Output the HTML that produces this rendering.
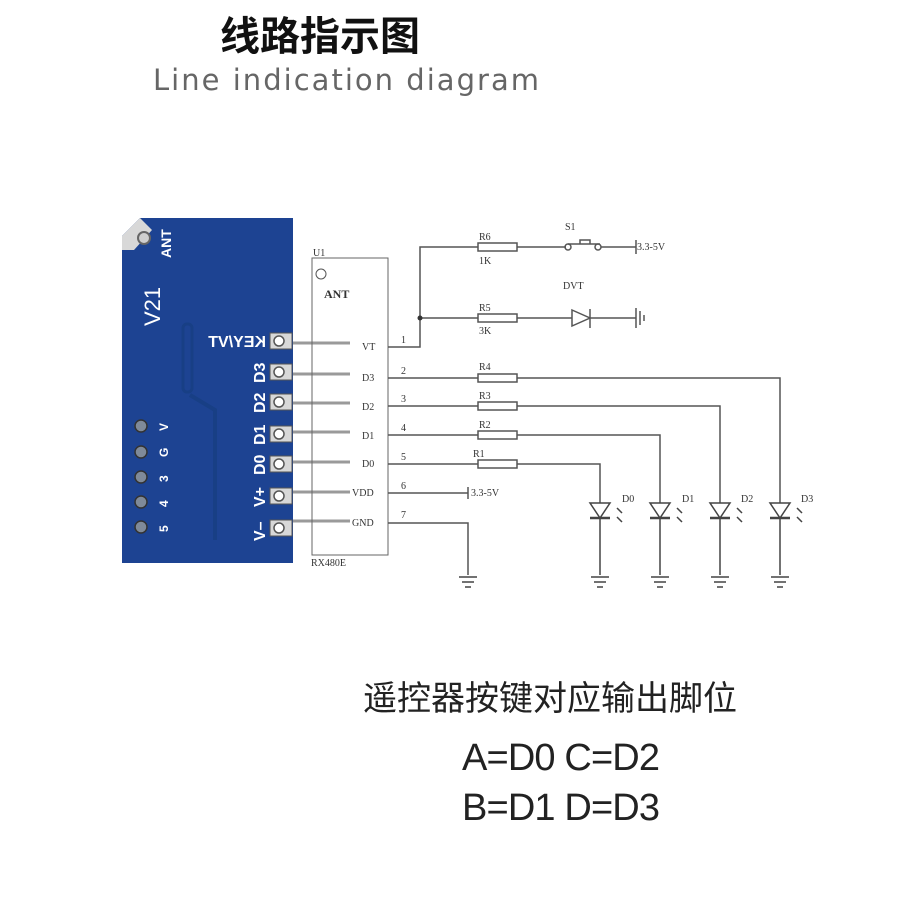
<!DOCTYPE html>
<html><head><meta charset="utf-8"><style>
html,body{margin:0;padding:0;background:#fff;}
svg{display:block;}
</style></head><body>
<svg width="900" height="900" viewBox="0 0 900 900" xmlns="http://www.w3.org/2000/svg">
<text x="320" y="50" font-family="'Noto Sans CJK SC',sans-serif" font-size="40" font-weight="bold" text-anchor="middle" fill="#111">线路指示图</text>
<text x="346" y="90" font-family="'DejaVu Sans','Liberation Sans',sans-serif" font-size="29" text-anchor="middle" fill="#666" textLength="386">Line indication diagram</text>

<!-- PCB -->
<rect x="122" y="218" width="171" height="345" fill="#1d4392"/>
<polygon points="122,218 140,218 122,236" fill="#fff"/>
<polygon points="122,236 140,218 152,230 134,250 122,250" fill="#d8d8d8"/>
<circle cx="144" cy="238" r="6" fill="#cfcfcf" stroke="#666" stroke-width="2"/>
<text x="0" y="0" transform="translate(171,258) rotate(-90)" font-family="'Liberation Sans',sans-serif" font-size="14" font-weight="bold" fill="#fff">ANT</text>
<text x="0" y="0" transform="translate(160,326) rotate(-90)" font-family="'Liberation Sans',sans-serif" font-size="22" fill="#fff">V21</text>
<rect x="183" y="324" width="9" height="68" rx="4" fill="none" stroke="#183f85" stroke-width="3"/>
<path d="M190 395 L215 410 L215 540" fill="none" stroke="#183f85" stroke-width="4"/>
<g fill="#7f8a99" stroke="#333" stroke-width="1.5">
<circle cx="141" cy="426" r="6"/><circle cx="141" cy="452" r="6"/><circle cx="141" cy="477" r="6"/><circle cx="141" cy="502" r="6"/><circle cx="141" cy="527" r="6"/>
</g>
<g font-family="'Liberation Sans',sans-serif" font-size="12" font-weight="bold" fill="#fff">
<text transform="translate(168,431) rotate(-90)">V</text>
<text transform="translate(168,457) rotate(-90)">G</text>
<text transform="translate(168,482) rotate(-90)">3</text>
<text transform="translate(168,507) rotate(-90)">4</text>
<text transform="translate(168,532) rotate(-90)">5</text>
</g>
<g font-family="'Liberation Sans',sans-serif" font-size="16" font-weight="bold" fill="#fff">
<text transform="translate(266,341) scale(-1,1)" dy="6" text-anchor="start">KEY/VT</text>
<text transform="translate(265,383) rotate(-90)">D3</text>
<text transform="translate(265,413) rotate(-90)">D2</text>
<text transform="translate(265,445) rotate(-90)">D1</text>
<text transform="translate(265,475) rotate(-90)">D0</text>
<text transform="translate(265,507) rotate(-90)">V+</text>
<text transform="translate(265,541) rotate(-90)">V–</text>
</g>
<g>
<g fill="#d8d8d8" stroke="#555" stroke-width="1">
<rect x="270" y="333" width="22" height="16"/><rect x="270" y="364" width="22" height="16"/><rect x="270" y="394" width="22" height="16"/><rect x="270" y="426" width="22" height="16"/><rect x="270" y="456" width="22" height="16"/><rect x="270" y="488" width="22" height="16"/><rect x="270" y="520" width="22" height="16"/>
</g>
<g fill="#fff" stroke="#555" stroke-width="1.5">
<circle cx="279" cy="341" r="5"/><circle cx="279" cy="372" r="5"/><circle cx="279" cy="402" r="5"/><circle cx="279" cy="434" r="5"/><circle cx="279" cy="464" r="5"/><circle cx="279" cy="496" r="5"/><circle cx="279" cy="528" r="5"/>
</g>
</g>

<!-- schematic -->
<g stroke="#9a9a9a" stroke-width="3">
<line x1="293" y1="343" x2="350" y2="343"/><line x1="293" y1="374" x2="350" y2="374"/><line x1="293" y1="403" x2="350" y2="403"/><line x1="293" y1="432" x2="350" y2="432"/><line x1="293" y1="462" x2="350" y2="462"/><line x1="293" y1="492" x2="350" y2="492"/><line x1="293" y1="521" x2="350" y2="521"/>
</g>
<g font-family="'Liberation Serif',serif" font-size="10" fill="#333">
<text x="313" y="256">U1</text>
<text x="311" y="566">RX480E</text>
<text x="324" y="298" font-weight="bold" font-size="12">ANT</text>
<text x="362" y="350">VT</text><text x="362" y="381">D3</text><text x="362" y="410">D2</text><text x="362" y="439">D1</text><text x="362" y="467">D0</text><text x="352" y="496">VDD</text><text x="352" y="526">GND</text>
<text x="401" y="343">1</text><text x="401" y="374">2</text><text x="401" y="402">3</text><text x="401" y="431">4</text><text x="401" y="460">5</text><text x="401" y="489">6</text><text x="401" y="518">7</text>
<text x="479" y="240">R6</text><text x="479" y="264">1K</text>
<text x="479" y="311">R5</text><text x="479" y="334">3K</text>
<text x="479" y="370">R4</text><text x="479" y="399">R3</text><text x="479" y="428">R2</text><text x="473" y="457">R1</text>
<text x="565" y="230">S1</text><text x="563" y="289">DVT</text>
<text x="637" y="250">3.3-5V</text><text x="471" y="496">3.3-5V</text>
<text x="622" y="502">D0</text><text x="682" y="502">D1</text><text x="741" y="502">D2</text><text x="801" y="502">D3</text>
</g>
<circle cx="321" cy="274" r="5" fill="none" stroke="#555"/>
<rect x="312" y="258" width="76" height="297" fill="none" stroke="#666" stroke-width="1"/>
<g stroke="#555" stroke-width="1.5" fill="none">
<path d="M388 347 H420 V247 H478"/><path d="M517 247 H566"/><path d="M601 247 H636"/><line x1="636" y1="240" x2="636" y2="254"/>
<path d="M420 318 H478"/><path d="M517 318 H572"/><path d="M590 318 H636"/>
<path d="M572 310 L590 318 L572 326 Z"/><line x1="590" y1="309" x2="590" y2="328"/>
<line x1="636" y1="308" x2="636" y2="328"/><line x1="640" y1="311" x2="640" y2="325"/><line x1="644" y1="315" x2="644" y2="321"/>
<path d="M568 244 H600 M580 244 V240 H590 V244"/>
<circle cx="568" cy="247" r="3"/><circle cx="598" cy="247" r="3"/>
<path d="M388 378 H478 M517 378 H780 V503"/>
<path d="M388 406 H478 M517 406 H720 V503"/>
<path d="M388 435 H478 M517 435 H660 V503"/>
<path d="M388 464 H478 M517 464 H600 V503"/>
<path d="M388 493 H468"/><line x1="468" y1="487" x2="468" y2="499"/>
<path d="M388 523 H468 V575"/>
<rect x="478" y="243" width="39" height="8" fill="#fff"/>
<rect x="478" y="314" width="39" height="8" fill="#fff"/>
<rect x="478" y="374" width="39" height="8" fill="#fff"/>
<rect x="478" y="402" width="39" height="8" fill="#fff"/>
<rect x="478" y="431" width="39" height="8" fill="#fff"/>
<rect x="478" y="460" width="39" height="8" fill="#fff"/>
</g>
<g stroke="#444" stroke-width="1.5" fill="none">
<path d="M459 577 H477 M462 582 H474 M465 587 H471"/>
<g id="led"><path d="M590 503 H610 L600 518 Z"/><line x1="590" y1="518" x2="610" y2="518" stroke-width="2.5"/><line x1="600" y1="518" x2="600" y2="575"/><path d="M591 577 H609 M594 582 H606 M597 587 H603"/><path d="M617 508 L622 513 M617 517 L622 522" /></g>
<use href="#led" x="60"/><use href="#led" x="120"/><use href="#led" x="180"/>
</g>
<circle cx="420" cy="318" r="2.5" fill="#333"/>

<text x="550" y="710" font-family="'Noto Sans CJK SC',sans-serif" font-size="34" text-anchor="middle" fill="#222">遥控器按键对应输出脚位</text>
<text x="462" y="770" font-family="'Liberation Sans','DejaVu Sans',sans-serif" font-size="38" fill="#222" textLength="198">A=D0  C=D2</text>
<text x="462" y="820" font-family="'Liberation Sans','DejaVu Sans',sans-serif" font-size="38" fill="#222" textLength="198">B=D1  D=D3</text>
</svg>
</body></html>
